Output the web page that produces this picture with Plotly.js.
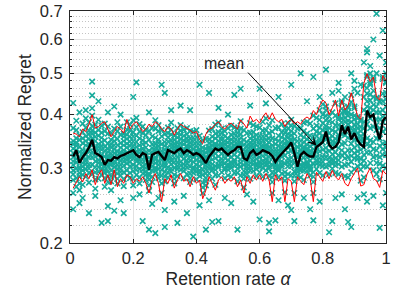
<!DOCTYPE html>
<html>
<head>
<meta charset="utf-8">
<script src="https://cdn.plot.ly/plotly-3.0.1.min.js"></script>
<style>html,body{margin:0;padding:0;background:#fff;}#chart{width:399px;height:304px;}</style>
</head>
<body>
<div id="chart"></div>
<script>
// Retention rate alpha (x positions of each column of runs)
const alpha = [0.01,0.02,0.03,0.04,0.05,0.06,0.07,0.08,0.09,0.10,
0.11,0.12,0.13,0.14,0.15,0.16,0.17,0.18,0.19,0.20,
0.21,0.22,0.23,0.24,0.25,0.26,0.27,0.28,0.29,0.30,
0.31,0.32,0.33,0.34,0.35,0.36,0.37,0.38,0.39,0.40,
0.41,0.42,0.43,0.44,0.45,0.46,0.47,0.48,0.49,0.50,
0.51,0.52,0.53,0.54,0.55,0.56,0.57,0.58,0.59,0.60,
0.61,0.62,0.63,0.64,0.65,0.66,0.67,0.68,0.69,0.70,
0.71,0.72,0.73,0.74,0.75,0.76,0.77,0.78,0.79,0.80,
0.81,0.82,0.83,0.84,0.85,0.86,0.87,0.88,0.89,0.90,
0.91,0.92,0.93,0.94,0.95,0.96,0.97,0.98,0.99,1.00];

// Mean normalized regret (black line)
const meanRegret = [.319,.330,.308,.318,.325,.335,.349,.325,.322,.318,
.305,.313,.312,.318,.316,.320,.322,.325,.327,.330,
.322,.318,.325,.322,.297,.322,.325,.327,.320,.313,
.330,.327,.325,.330,.333,.325,.330,.327,.322,.325,
.322,.316,.308,.319,.325,.333,.330,.333,.327,.322,
.327,.330,.336,.336,.316,.313,.325,.330,.322,.325,
.330,.327,.325,.320,.310,.318,.325,.330,.336,.344,
.325,.302,.322,.327,.322,.319,.319,.336,.340,.345,
.365,.340,.333,.336,.345,.378,.360,.375,.350,.362,
.348,.340,.336,.409,.395,.400,.370,.350,.387,.395];

// Upper red line
const upperRegret = [.362,.360,.355,.370,.365,.380,.400,.372,.375,.382,
.385,.370,.355,.365,.375,.370,.362,.390,.370,.380,
.385,.375,.365,.370,.380,.375,.385,.380,.370,.365,
.375,.370,.358,.370,.380,.375,.372,.368,.362,.365,
.350,.342,.360,.370,.372,.380,.385,.375,.370,.378,
.382,.375,.370,.389,.380,.372,.397,.385,.390,.382,
.395,.404,.390,.404,.390,.385,.390,.375,.385,.390,
.380,.385,.380,.390,.395,.390,.409,.400,.420,.433,
.426,.400,.415,.433,.397,.433,.410,.420,.450,.420,
.397,.390,.474,.499,.478,.490,.440,.433,.494,.480];

// Lower red line
const lowerRegret = [.269,.278,.286,.278,.291,.283,.297,.274,.289,.297,
.276,.289,.274,.297,.271,.283,.276,.289,.286,.276,
.283,.279,.286,.276,.262,.281,.291,.276,.250,.283,
.276,.289,.269,.281,.291,.279,.283,.271,.286,.276,
.281,.254,.266,.286,.276,.266,.281,.286,.276,.283,
.279,.286,.271,.281,.262,.286,.276,.289,.281,.289,
.279,.291,.281,.250,.289,.279,.286,.250,.283,.279,
.250,.286,.279,.274,.291,.283,.250,.293,.286,.279,
.294,.283,.296,.286,.281,.291,.276,.272,.283,.291,
.300,.272,.274,.290,.300,.283,.280,.270,.296,.290];

// Individual runs at each alpha (teal crosses), one list per alpha
const runRegret = [
[.281,.296,.262,.305,.333,.318,.347,.29,.372,.311,.325,.341],
[.284,.309,.322,.338,.352,.299,.368,.315,.344,.271,.33,.387],
[.276,.301,.292,.318,.287,.336,.312,.349,.298,.327,.358,.266],
[.289,.274,.33,.308,.352,.296,.343,.319,.364,.302,.381,.325],
[.298,.315,.286,.339,.322,.356,.306,.373,.329,.347,.392,.311],
[.292,.318,.341,.277,.36,.328,.305,.384,.351,.334,.367,.299],
[.305,.327,.352,.361,.339,.376,.318,.398,.344,.29,.367,.414],
[.282,.301,.336,.319,.347,.293,.363,.311,.328,.379,.268,.355],
[.294,.313,.33,.301,.357,.322,.341,.283,.368,.336,.308,.389],
[.299,.322,.308,.345,.316,.363,.331,.289,.377,.337,.353,.305],
[.271,.292,.311,.284,.329,.301,.348,.319,.366,.296,.337,.381],
[.286,.303,.327,.295,.342,.316,.361,.308,.333,.278,.375,.32],
[.279,.296,.318,.305,.335,.287,.349,.324,.266,.31,.362,.341],
[.301,.325,.311,.339,.294,.356,.318,.332,.371,.306,.347,.287],
[.276,.305,.291,.328,.314,.351,.298,.366,.322,.339,.283,.384],
[.288,.312,.327,.298,.343,.318,.359,.305,.335,.375,.293,.323],
[.282,.304,.33,.317,.347,.293,.339,.361,.311,.325,.272,.355],
[.296,.318,.335,.307,.351,.326,.369,.288,.342,.384,.313,.359],
[.292,.31,.338,.321,.355,.303,.346,.367,.329,.284,.317,.379],
[.283,.305,.327,.346,.316,.364,.337,.295,.356,.321,.388,.273],
[.289,.311,.303,.336,.322,.357,.345,.297,.374,.328,.315,.393],
[.285,.298,.319,.331,.308,.352,.339,.276,.365,.313,.326,.38],
[.291,.314,.302,.333,.322,.348,.341,.362,.297,.327,.308,.375],
[.281,.306,.294,.327,.315,.344,.358,.3,.335,.368,.289,.32],
[.265,.282,.298,.273,.311,.29,.329,.305,.349,.317,.366,.288],
[.286,.303,.327,.314,.341,.296,.356,.32,.334,.372,.309,.278],
[.296,.318,.308,.335,.326,.353,.342,.371,.3,.33,.388,.314],
[.284,.311,.298,.331,.322,.349,.337,.366,.305,.343,.289,.378],
[.262,.288,.304,.276,.323,.313,.341,.297,.356,.329,.368,.318],
[.287,.302,.319,.294,.331,.311,.345,.306,.36,.325,.279,.338],
[.285,.313,.328,.301,.346,.335,.362,.318,.354,.293,.373,.322],
[.294,.317,.335,.306,.348,.327,.359,.312,.341,.369,.299,.383],
[.276,.3,.317,.289,.336,.325,.349,.309,.357,.331,.283,.342],
[.287,.309,.327,.298,.344,.334,.361,.318,.353,.372,.303,.337],
[.297,.32,.336,.31,.351,.343,.367,.326,.359,.304,.378,.331],
[.284,.306,.322,.295,.341,.331,.357,.315,.348,.369,.3,.327],
[.29,.312,.33,.301,.346,.335,.36,.321,.352,.372,.307,.338],
[.278,.302,.319,.291,.337,.327,.352,.312,.344,.366,.284,.33],
[.292,.31,.325,.301,.339,.318,.353,.332,.346,.298,.365,.322],
[.282,.305,.321,.294,.338,.327,.354,.313,.345,.368,.299,.33],
[.287,.303,.318,.296,.332,.325,.345,.311,.339,.357,.292,.328],
[.262,.289,.307,.277,.322,.312,.335,.297,.328,.348,.27,.318],
[.273,.291,.304,.284,.318,.309,.333,.298,.326,.351,.279,.313],
[.291,.305,.322,.299,.336,.316,.35,.328,.343,.367,.31,.332],
[.283,.306,.323,.296,.339,.329,.355,.314,.346,.37,.3,.332],
[.274,.303,.324,.289,.342,.333,.361,.316,.352,.379,.297,.338],
[.288,.311,.329,.301,.347,.334,.364,.319,.356,.383,.305,.34],
[.293,.315,.333,.305,.349,.337,.363,.324,.355,.371,.31,.342],
[.284,.307,.325,.297,.341,.33,.356,.316,.347,.366,.3,.334],
[.288,.306,.321,.297,.336,.324,.352,.313,.344,.372,.302,.329],
[.286,.309,.327,.3,.343,.331,.359,.318,.35,.377,.304,.335],
[.292,.313,.331,.304,.346,.334,.361,.322,.353,.373,.309,.339],
[.279,.305,.329,.292,.346,.337,.362,.318,.354,.371,.299,.341],
[.288,.314,.336,.302,.353,.341,.371,.325,.36,.386,.308,.345],
[.27,.295,.314,.283,.331,.32,.349,.305,.34,.368,.289,.324],
[.29,.302,.317,.296,.331,.313,.345,.322,.338,.362,.307,.327],
[.283,.308,.326,.296,.344,.331,.363,.317,.352,.382,.302,.337],
[.295,.316,.332,.306,.348,.336,.364,.323,.355,.378,.311,.341],
[.287,.307,.323,.298,.34,.327,.358,.315,.349,.375,.303,.331],
[.293,.31,.325,.302,.341,.329,.357,.318,.348,.373,.306,.334],
[.286,.311,.33,.3,.348,.336,.367,.32,.356,.385,.306,.34],
[.296,.315,.331,.305,.349,.335,.368,.322,.357,.392,.31,.34],
[.287,.309,.327,.299,.344,.331,.362,.318,.352,.378,.303,.336],
[.262,.292,.317,.278,.339,.326,.365,.305,.352,.388,.285,.331],
[.292,.303,.315,.298,.331,.312,.35,.321,.341,.372,.307,.326],
[.285,.304,.321,.296,.338,.325,.357,.313,.347,.373,.3,.33],
[.291,.311,.328,.302,.345,.332,.364,.319,.354,.38,.306,.337],
[.263,.293,.321,.28,.343,.331,.363,.307,.351,.371,.287,.336],
[.29,.315,.336,.303,.353,.341,.371,.326,.36,.382,.309,.345],
[.288,.317,.34,.303,.358,.346,.377,.329,.366,.389,.31,.35],
[.262,.294,.322,.279,.341,.329,.361,.309,.35,.376,.288,.334],
[.288,.298,.31,.294,.325,.304,.347,.317,.336,.371,.3,.319],
[.285,.305,.322,.296,.338,.326,.358,.313,.347,.372,.3,.331],
[.281,.307,.327,.296,.345,.332,.366,.317,.354,.383,.302,.336],
[.295,.31,.324,.302,.34,.328,.361,.318,.35,.385,.306,.333],
[.288,.304,.32,.296,.337,.324,.357,.312,.346,.381,.3,.329],
[.262,.293,.318,.278,.341,.326,.371,.307,.356,.398,.286,.332],
[.298,.318,.337,.307,.356,.342,.377,.327,.365,.393,.312,.346],
[.292,.317,.339,.305,.362,.346,.389,.328,.373,.41,.31,.351],
[.288,.318,.344,.303,.368,.352,.4,.331,.382,.423,.31,.357],
[.302,.334,.363,.318,.388,.37,.41,.35,.397,.418,.327,.376],
[.29,.317,.34,.304,.362,.346,.386,.329,.372,.396,.31,.352],
[.299,.315,.333,.307,.356,.34,.384,.323,.368,.405,.311,.346],
[.292,.316,.338,.304,.365,.344,.398,.326,.378,.425,.309,.351],
[.29,.321,.347,.306,.37,.353,.39,.334,.378,.395,.313,.358],
[.302,.341,.375,.321,.404,.384,.426,.36,.413,.43,.33,.392],
[.287,.325,.358,.305,.385,.366,.405,.343,.393,.408,.316,.372],
[.285,.33,.37,.306,.398,.38,.415,.353,.405,.418,.318,.387],
[.293,.33,.355,.31,.385,.363,.428,.342,.4,.445,.32,.371],
[.298,.335,.364,.316,.39,.37,.414,.35,.398,.418,.325,.379],
[.303,.328,.35,.315,.372,.355,.392,.339,.38,.395,.32,.362],
[.28,.315,.343,.297,.366,.349,.386,.331,.374,.389,.306,.356],
[.285,.322,.348,.303,.385,.36,.44,.335,.41,.468,.312,.372],
[.302,.352,.405,.326,.448,.418,.49,.38,.462,.495,.34,.43],
[.308,.348,.392,.326,.432,.404,.47,.372,.446,.475,.338,.415],
[.296,.345,.397,.318,.44,.41,.482,.375,.455,.488,.332,.422],
[.29,.33,.368,.308,.405,.378,.435,.352,.418,.438,.32,.39],
[.282,.318,.352,.297,.39,.36,.428,.338,.405,.43,.307,.372],
[.304,.342,.385,.322,.43,.395,.485,.365,.448,.49,.332,.41],
[.3,.344,.39,.322,.435,.402,.475,.37,.45,.478,.335,.418]
];

// Scattered outlying runs (alpha, regret)
const outlierAlpha = [.01,.07,.07,.09,.14,.20,.21,.29,.30,.32,.35,.41,.44,.52,.54,.60,.70,.73,.77,.81,.89,.93,.94,.94,.96,.97,.97,.99,
.03,.05,.12,.16,.25,.38,.47,.50,.57,.62,.66,.75,.79,.83,.85,.87,.90,.91,.92,.95,.98,1.0,1.0,.85,.90,.95,
.01,.03,.06,.10,.12,.12,.14,.16,.17,.23,.25,.26,.27,.30,.30,.34,.37,.39,.43,.45,.47,.53,.60,.63,.63,.65,.70,.71,.76,.77,.82,.83,.87,.88,.89,.94,.98,.99,
.04,.08,.20,.22,.28,.33,.36,.41,.44,.49,.51,.56,.58,.66,.69,.74,.79,.84,.86,.91,.93,.96,1.0];
const outlierRegret = [.426,.478,.444,.43,.418,.44,.476,.47,.45,.41,.42,.47,.45,.445,.46,.46,.47,.50,.49,.51,.50,.53,.57,.56,.60,.50,.69,.63,
.405,.41,.405,.40,.405,.41,.415,.40,.42,.425,.44,.43,.44,.45,.475,.44,.48,.45,.47,.52,.55,.53,.50,.455,.46,.50,
.24,.248,.235,.223,.225,.244,.238,.252,.235,.225,.215,.247,.211,.218,.239,.223,.235,.207,.215,.224,.225,.215,.227,.223,.213,.226,.239,.225,.24,.226,.212,.225,.24,.224,.218,.25,.217,.245,
.255,.258,.255,.26,.255,.25,.258,.245,.252,.255,.248,.26,.25,.252,.245,.255,.25,.255,.26,.255,.26,.258,.262];

// Tick labels
const xTickVals = [0, 0.2, 0.4, 0.6, 0.8, 1];
const xTickText = ['0', '0.2', '0.4', '0.6', '0.8', '1'];
const yTickVals = [0.2, 0.3, 0.4, 0.5, 0.6, 0.7];
const yTickText = ['0.2', '0.3', '0.4', '0.5', '0.6', '0.7'];

const teal = '#17ab9c';
const ink = '#262626';
const font = 'Liberation Sans, Arial, Helvetica, sans-serif';

const runX = [], runY = [];
runRegret.forEach((col, i) => col.forEach(v => { runX.push(alpha[i]); runY.push(v); }));
outlierAlpha.forEach((a, i) => { runX.push(a); runY.push(outlierRegret[i]); });

const traces = [
  {x: runX, y: runY, type: 'scatter', mode: 'markers',
   marker: {symbol: 'x-thin', size: 5.5, color: teal, line: {color: teal, width: 1.6}},
   hoverinfo: 'skip', showlegend: false},
  {x: alpha, y: upperRegret, type: 'scatter', mode: 'lines',
   line: {color: '#ff0000', width: 1}, showlegend: false},
  {x: alpha, y: lowerRegret, type: 'scatter', mode: 'lines',
   line: {color: '#ff0000', width: 1}, showlegend: false},
  {x: alpha, y: meanRegret, type: 'scatter', mode: 'lines',
   line: {color: '#000000', width: 2.4}, showlegend: false}
];

const layout = {
  width: 399, height: 304,
  margin: {l: 70, r: 13, t: 11, b: 61},
  paper_bgcolor: '#ffffff', plot_bgcolor: '#ffffff',
  font: {family: font, color: ink},
  showlegend: false,
  xaxis: {
    range: [0, 1], tickvals: xTickVals, ticktext: xTickText,
    ticks: 'inside', ticklen: 4, tickcolor: ink, mirror: 'allticks',
    showline: true, linecolor: ink, linewidth: 1,
    showgrid: true, gridcolor: '#e2e2e2', gridwidth: 1, zeroline: false,
    tickfont: {family: font, size: 16.5, color: ink},
    title: {text: 'Retention rate <i>α</i>', font: {family: font, size: 17.5, color: ink}, standoff: 6}
  },
  yaxis: {
    type: 'log', range: [Math.log10(0.2), Math.log10(0.7)],
    tickvals: yTickVals, ticktext: yTickText,
    ticks: 'inside', ticklen: 4, tickcolor: ink, mirror: 'allticks',
    showline: true, linecolor: ink, linewidth: 1,
    showgrid: true, gridcolor: '#e2e2e2', gridwidth: 1, zeroline: false,
    tickfont: {family: font, size: 16.5, color: ink},
    ticklabelstandoff: 3,
    minor: {dtick: 'L0.02', tick0: 0.2, showgrid: true, griddash: '1px,2px', gridcolor: '#c4c4c4', gridwidth: 1,
            ticks: 'inside', ticklen: 2, tickcolor: ink},
    title: {text: 'Normalized Regret', font: {family: font, size: 17.5, color: ink}, standoff: 3}
  },
  annotations: [
    {x: 0.78, y: Math.log10(0.338), xref: 'x', yref: 'y',
     ax: 0.559, ay: Math.log10(0.506), axref: 'x', ayref: 'y',
     text: '', showarrow: true, arrowhead: 3, arrowsize: 1.6, arrowwidth: 1, arrowcolor: '#000000'},
    {x: 0.486, y: Math.log10(0.528), xref: 'x', yref: 'y', text: 'mean', showarrow: false,
     font: {family: font, size: 16, color: ink}}
  ]
};

Plotly.newPlot('chart', traces, layout, {displayModeBar: false, staticPlot: true});
</script>
</body>
</html>
